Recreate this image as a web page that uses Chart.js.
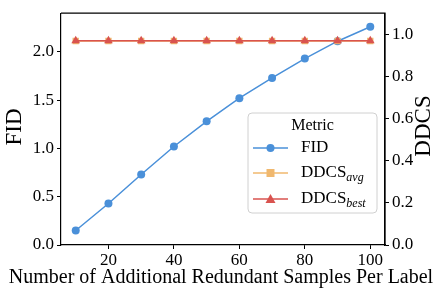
<!DOCTYPE html>
<html>
<head>
<meta charset="utf-8">
<script src="https://cdn.jsdelivr.net/npm/chart.js@4/dist/chart.umd.min.js"></script>
<style>
  html, body { margin: 0; padding: 0; background: #fff; }
  #wrap { width: 435px; height: 290px; }
</style>
</head>
<body>
<div id="wrap"><canvas id="chart"></canvas></div>
<script>
// Data
const samples = [10, 20, 30, 40, 50, 60, 70, 80, 90, 100];
const fid = [0.15, 0.43, 0.73, 1.02, 1.28, 1.52, 1.73, 1.93, 2.11, 2.26];
const ddcsAvg = [0.968, 0.968, 0.968, 0.968, 0.968, 0.968, 0.968, 0.968, 0.968, 0.968];
const ddcsBest = [0.969, 0.969, 0.969, 0.969, 0.969, 0.969, 0.969, 0.969, 0.969, 0.969];

const xTicks = [20, 40, 60, 80, 100];
const fidTicks = [0.0, 0.5, 1.0, 1.5, 2.0];
const ddcsTicks = [0.0, 0.2, 0.4, 0.6, 0.8, 1.0];

const BLUE = '#4a90d9';
const ORANGE = '#f0b86e';
const RED = '#d9534f';
const SERIF = '"Liberation Serif", "DejaVu Serif", serif';

const toPoints = (ys) => samples.map((x, i) => ({ x: x, y: ys[i] }));

// axis titles, frame and legend drawn by hand (subscripts, matplotlib look)
const extras = {
    id: 'extras',
    afterDraw(chart) {
        const ctx = chart.ctx;
        const a = chart.chartArea;
        ctx.save();

        // top + right spines
        ctx.strokeStyle = '#000';
        ctx.lineWidth = 1.2;
        ctx.beginPath();
        ctx.moveTo(a.left, a.top);
        ctx.lineTo(a.right, a.top);
        ctx.lineTo(a.right, a.bottom);
        ctx.stroke();

        ctx.fillStyle = '#000';
        ctx.textAlign = 'center';
        ctx.textBaseline = 'middle';

        // x title
        ctx.font = '20px ' + SERIF;
        ctx.fillText('Number of Additional Redundant Samples Per Label', 221, 278);

        // left title
        ctx.save();
        ctx.translate(15, 127);
        ctx.rotate(-Math.PI / 2);
        ctx.font = '23px ' + SERIF;
        ctx.fillText('FID', 0, 0);
        ctx.restore();

        // right title, reads bottom to top
        ctx.save();
        ctx.translate(424, 126);
        ctx.rotate(-Math.PI / 2);
        ctx.font = '23px ' + SERIF;
        ctx.fillText('DDCS', 0, 0);
        ctx.restore();

        // legend box
        const bx = 248, by = 113, bw = 129, bh = 100, r = 4;
        ctx.beginPath();
        ctx.moveTo(bx + r, by);
        ctx.arcTo(bx + bw, by, bx + bw, by + bh, r);
        ctx.arcTo(bx + bw, by + bh, bx, by + bh, r);
        ctx.arcTo(bx, by + bh, bx, by, r);
        ctx.arcTo(bx, by, bx + bw, by, r);
        ctx.closePath();
        ctx.fillStyle = 'rgba(255,255,255,0.8)';
        ctx.fill();
        ctx.strokeStyle = '#d0d0d0';
        ctx.lineWidth = 1;
        ctx.stroke();

        ctx.fillStyle = '#000';
        ctx.font = '16px ' + SERIF;
        ctx.fillText('Metric', bx + bw / 2, 126);

        const items = [
            { color: BLUE, marker: 'circle', main: 'FID', sub: '', y: 148 },
            { color: ORANGE, marker: 'rect', main: 'DDCS', sub: 'avg', y: 173 },
            { color: RED, marker: 'triangle', main: 'DDCS', sub: 'best', y: 199 }
        ];
        items.forEach(it => {
            ctx.strokeStyle = it.color;
            ctx.lineWidth = 1.5;
            ctx.beginPath();
            ctx.moveTo(253, it.y);
            ctx.lineTo(288, it.y);
            ctx.stroke();
            ctx.fillStyle = it.color;
            ctx.beginPath();
            if (it.marker === 'circle') {
                ctx.arc(270.5, it.y, 4, 0, Math.PI * 2);
            } else if (it.marker === 'rect') {
                ctx.rect(266.5, it.y - 4, 8, 8);
            } else {
                ctx.moveTo(270.5, it.y - 5);
                ctx.lineTo(275.5, it.y + 4);
                ctx.lineTo(265.5, it.y + 4);
                ctx.closePath();
            }
            ctx.fill();

            ctx.fillStyle = '#000';
            ctx.textAlign = 'left';
            ctx.font = '17px ' + SERIF;
            ctx.fillText(it.main, 301, it.y);
            if (it.sub) {
                const w = ctx.measureText(it.main).width;
                ctx.font = 'italic 12px ' + SERIF;
                ctx.fillText(it.sub, 301 + w, it.y + 5);
            }
        });
        ctx.restore();
    }
};

const tickFont = { family: SERIF, size: 17 };
const axisGrid = { drawOnChartArea: false, drawTicks: true, tickLength: 4, tickColor: '#000' };

new Chart(document.getElementById('chart'), {
    type: 'line',
    data: {
        datasets: [
            {
                label: 'FID',
                data: toPoints(fid),
                yAxisID: 'y',
                order: 2,
                borderColor: BLUE,
                backgroundColor: BLUE,
                borderWidth: 1.5,
                pointStyle: 'circle',
                pointRadius: 4,
                pointBorderWidth: 0
            },
            {
                label: 'DDCS avg',
                data: toPoints(ddcsAvg),
                yAxisID: 'y1',
                order: 1,
                borderColor: ORANGE,
                backgroundColor: ORANGE,
                borderWidth: 1.5,
                pointStyle: 'rect',
                pointRadius: 4.5,
                pointBorderWidth: 0
            },
            {
                label: 'DDCS best',
                data: toPoints(ddcsBest),
                yAxisID: 'y1',
                order: 0,
                borderColor: RED,
                backgroundColor: RED,
                borderWidth: 1.5,
                pointStyle: 'triangle',
                pointRadius: 5,
                pointBorderWidth: 0
            }
        ]
    },
    options: {
        responsive: true,
        maintainAspectRatio: false,
        animation: false,
        layout: { padding: { top: 4, left: 0, right: 0, bottom: 0 } },
        plugins: {
            legend: { display: false },
            tooltip: { enabled: false }
        },
        scales: {
            x: {
                type: 'linear',
                min: 5.5,
                max: 104.5,
                afterBuildTicks: s => { s.ticks = xTicks.map(v => ({ value: v })); },
                afterFit: s => { s.height = 45; },
                border: { color: '#000', width: 1.2 },
                grid: axisGrid,
                ticks: { color: '#000', font: tickFont, padding: 1, maxRotation: 0 }
            },
            y: {
                position: 'left',
                min: 0,
                max: 2.4,
                afterBuildTicks: s => { s.ticks = fidTicks.map(v => ({ value: v })); },
                afterFit: s => { s.width = 61; },
                border: { color: '#000', width: 1.2 },
                grid: axisGrid,
                ticks: { color: '#000', font: tickFont, padding: 3, callback: v => v.toFixed(1) }
            },
            y1: {
                position: 'right',
                min: 0,
                max: 1.1,
                afterBuildTicks: s => { s.ticks = ddcsTicks.map(v => ({ value: v })); },
                afterFit: s => { s.width = 50; },
                border: { color: '#000', width: 1.2 },
                grid: axisGrid,
                ticks: { color: '#000', font: tickFont, padding: 3, callback: v => v.toFixed(1) }
            }
        }
    },
    plugins: [extras]
});
</script>
</body>
</html>
